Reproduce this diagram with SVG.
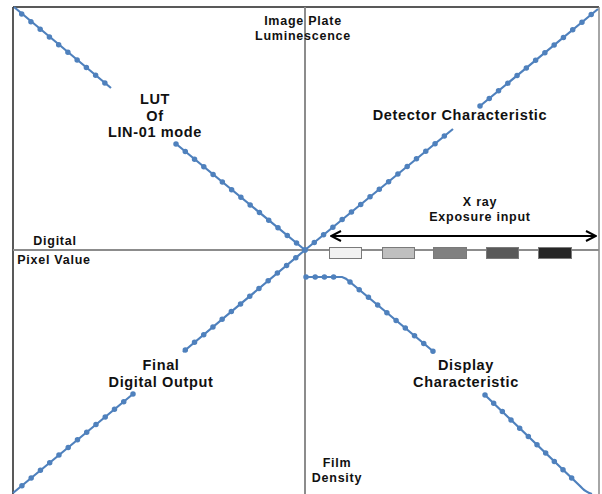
<svg xmlns="http://www.w3.org/2000/svg" width="602" height="494" viewBox="0 0 602 494">
<defs>
<style>
.lbl{font-family:"Liberation Sans",Arial,sans-serif;font-weight:700;fill:#111;text-anchor:middle}
.big{font-size:14.5px;letter-spacing:0.65px}
.sm{font-size:12.5px;letter-spacing:0.75px}
.ln{fill:none;stroke:#4f81bd;stroke-width:2.2}
.dt{fill:none;stroke:#4f81bd;stroke-width:5.5;stroke-linecap:round;stroke-dasharray:0 12}
.ax{stroke:#8c8c8c;stroke-width:2;fill:none}
.box{stroke:#7a7a7a;stroke-width:1}
</style>
<marker id="ah" viewBox="0 0 12 12" refX="11" refY="6" markerWidth="12" markerHeight="12" markerUnits="userSpaceOnUse" orient="auto-start-reverse">
<path d="M1,1 L11,6 L1,11" fill="none" stroke="#000" stroke-width="2"/>
</marker>
</defs>
<rect width="602" height="494" fill="#fff"/>
<g id="frame">
<line x1="13" y1="7" x2="599" y2="7" stroke="#222" stroke-width="1.5"/>
<line x1="13" y1="7" x2="13" y2="494" stroke="#222" stroke-width="1.5"/>
<line x1="599" y1="7" x2="599" y2="494" stroke="#888" stroke-width="1.5"/>
</g>
<g id="axes">
<line class="ax" x1="305" y1="7" x2="305" y2="494"/>
<line class="ax" x1="13" y1="250" x2="599" y2="250"/>
</g>
<g id="connectors">
<g id="lut-curve">
<path class="ln" d="M14,7 L111,88 M175,143 L305,250"/>
<path class="dt" d="M21.7,14 L111,88 M176,144 L305,250"/>
</g>
<g id="detector-curve">
<path class="ln" d="M305,250 L453,129 M480,106 L598,9"/>
<path class="dt" d="M305,250 L453,129 M480,106 L598,9"/>
</g>
<g id="final-curve">
<path class="ln" d="M305,250 L183,352 M133,394 L13,493"/>
<path class="dt" d="M305,250 L183,352 M133,394 L13,493"/>
</g>
<g id="display-curve">
<path class="ln" d="M305,277 L342,277 Q346,278 350,282 L434,352 M485,395 L580,486 Q585,492 592,494"/>
<path class="dt" style="stroke-dasharray:0 9.2" d="M306,277 L342,277"/>
<path class="dt" d="M350,282 L434,352 M485,395 L580,486"/>
</g>
<line id="exposure-arrow" x1="331" y1="236" x2="596" y2="236" stroke="#000" stroke-width="2" marker-start="url(#ah)" marker-end="url(#ah)"/>
</g>
<g id="exposure-steps">
<rect class="box" x="329.5" y="247.5" width="32" height="11" fill="#f2f2f2"/>
<rect class="box" x="382.5" y="247.5" width="32" height="11" fill="#bfbfbf"/>
<rect class="box" x="433.5" y="247.5" width="33" height="11" fill="#808080"/>
<rect class="box" x="486.5" y="247.5" width="32" height="11" fill="#595959"/>
<rect class="box" x="538.5" y="247.5" width="33" height="11" fill="#262626"/>
</g>
<g id="label-image-plate"><text class="lbl sm" x="303" y="25">Image Plate</text><text class="lbl sm" x="303" y="39.5">Luminescence</text></g>
<g id="label-lut"><text class="lbl big" x="155" y="104">LUT</text><text class="lbl big" x="155" y="120.5">Of</text><text class="lbl big" x="155" y="137">LIN-01 mode</text></g>
<g id="label-detector"><text class="lbl big" x="460" y="120">Detector Characteristic</text></g>
<g id="label-xray"><text class="lbl sm" x="480" y="206">X ray</text><text class="lbl sm" x="480" y="220.5">Exposure input</text></g>
<g id="label-digital"><text class="lbl sm" x="55" y="245">Digital</text><text class="lbl sm" x="54" y="264">Pixel Value</text></g>
<g id="label-final"><text class="lbl big" x="161" y="370">Final</text><text class="lbl big" x="161" y="387">Digital Output</text></g>
<g id="label-display"><text class="lbl big" x="466" y="370">Display</text><text class="lbl big" x="466" y="387">Characteristic</text></g>
<g id="label-film"><text class="lbl sm" x="337" y="467">Film</text><text class="lbl sm" x="337" y="481.5">Density</text></g>
</svg>
